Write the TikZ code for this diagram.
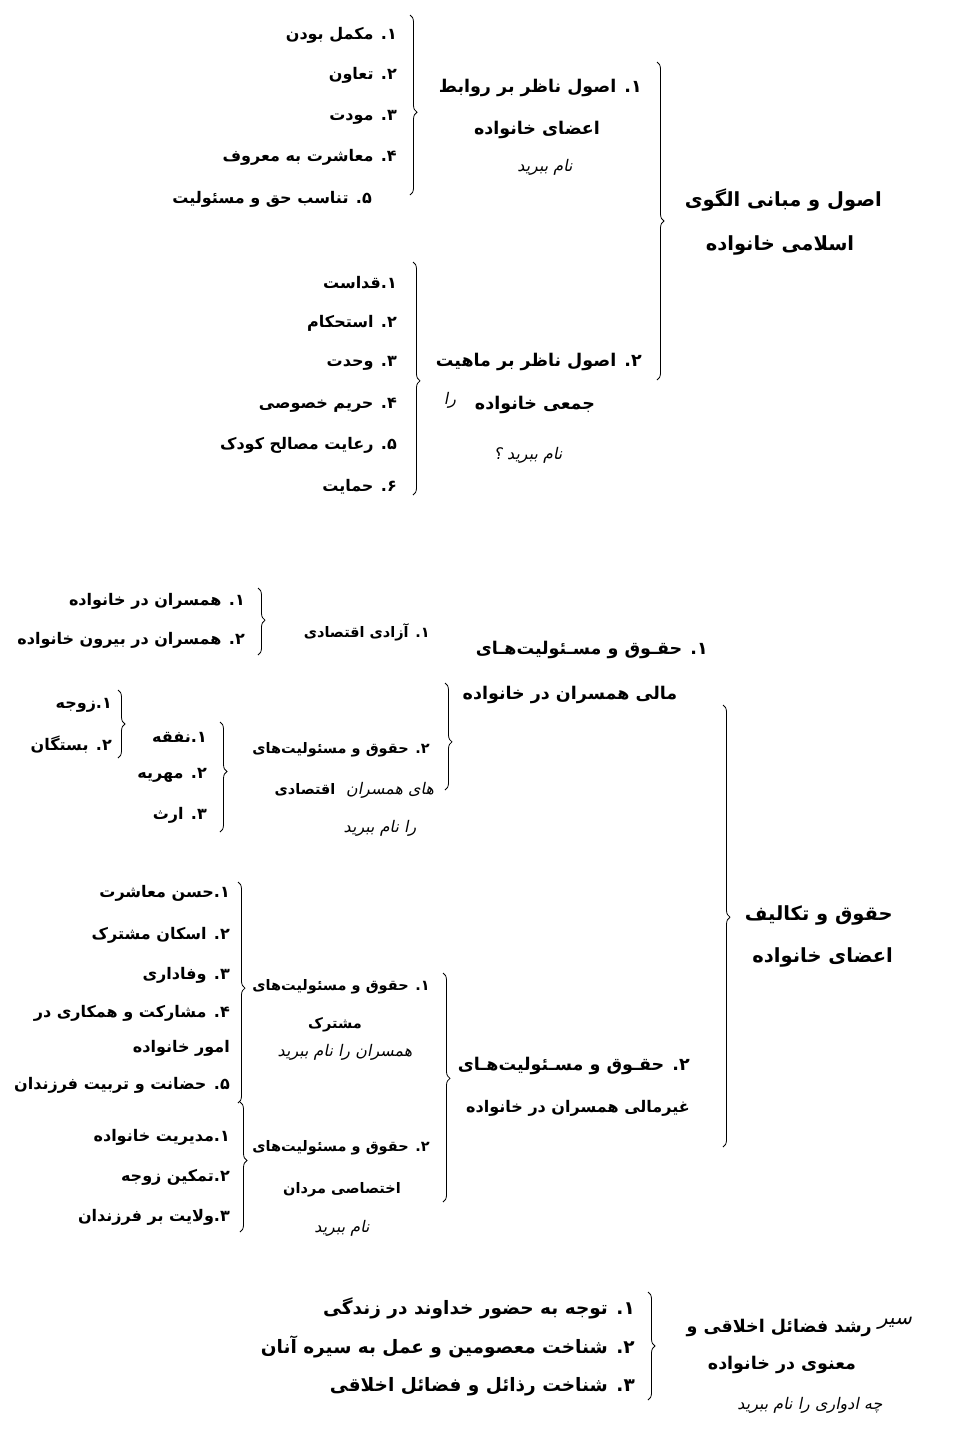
\documentclass[tikz,border=0pt]{standalone}
\usepackage{fontspec}
\usetikzlibrary{decorations.pathreplacing}
\TeXXeTstate=1
\newfontfamily\fa[Script=Arabic]{DejaVu Sans}
\newfontfamily\hand[Script=Arabic,FakeSlant=0.2]{DejaVu Sans}
\newcommand{\rtl}[1]{\beginR#1\endR}
\tikzset{itm/.style={inner sep=0pt,font=\fa\bfseries\fontsize{16}{18}\selectfont},
         sml/.style={inner sep=0pt,font=\fa\bfseries\fontsize{14.5}{17}\selectfont},
         hd/.style={inner sep=0pt,font=\fa\bfseries\fontsize{17.5}{20}\selectfont},
         rt/.style={inner sep=0pt,font=\fa\bfseries\fontsize{19.5}{22}\selectfont},
         wide/.style={inner sep=0pt,font=\fa\bfseries\fontsize{18.5}{21}\selectfont},
         hw/.style={inner sep=0pt,font=\hand\fontsize{16}{18}\selectfont},
         brc/.style={decorate,decoration={brace,amplitude=7pt,aspect=#1},line width=0.8pt},
         brc/.default=0.5}

\begin{document}
\begin{tikzpicture}[x=1pt,y=-1pt]
\useasboundingbox (0,0) rectangle (954,1452);

%%% part one
\node[itm,anchor=east] (a1) at (397,35)  {\rtl{۱. مکمل بودن}};
\node[itm,anchor=east] (a2) at (397,75)  {\rtl{۲. تعاون}};
\node[itm,anchor=east] (a3) at (397,117) {\rtl{۳. مودت}};
\node[itm,anchor=east] (a4) at (397,157) {\rtl{۴. معاشرت به معروف}};
\node[itm,anchor=east] (a5) at (372,199) {\rtl{۵. تناسب حق و مسئولیت}};
\coordinate (at) at (410,15); \coordinate (ab) at (410,195);
\draw[brc=0.54] (at)--(ab);                                   %a1..a5
\node[hd,anchor=east] (a0)  at (642,88)  {\rtl{۱. اصول ناظر بر روابط}};
\node[hd]             (a0b) at (537,130) {\rtl{اعضای خانواده}};
\node[hw]             (a0c) at (545,167) {\rtl{نام ببرید}};

\node[itm,anchor=east] (b1) at (397,283) {\rtl{۱.قداست}};
\node[itm,anchor=east] (b2) at (397,323) {\rtl{۲. استحکام}};
\node[itm,anchor=east] (b3) at (397,363) {\rtl{۳. وحدت}};
\node[itm,anchor=east] (b4) at (397,405) {\rtl{۴. حریم خصوصی}};
\node[itm,anchor=east] (b5) at (397,445) {\rtl{۵. رعایت مصالح کودک}};
\node[itm,anchor=east] (b6) at (397,487) {\rtl{۶. حمایت}};
\coordinate (bt) at (413,262); \coordinate (bb) at (413,495);
\draw[brc=0.51] (bt)--(bb);                                   %b1..b6
\node[hd,anchor=east] (b0)  at (642,362) {\rtl{۲. اصول ناظر بر ماهیت}};
\node[hd]             (b0b) at (535,405) {\rtl{جمعی خانواده}};
\node[hw]             (b0c) at (450,400) {\rtl{را}};
\node[hw]             (b0d) at (528,455) {\rtl{نام ببرید ؟}};

\coordinate (rt) at (657,62); \coordinate (rb) at (657,380);
\draw[brc=0.5] (rt)--(rb);                                    %a0,b0
\node[rt,anchor=east] (r1)  at (882,200) {\rtl{اصول و مبانی الگوی}};
\node[rt]             (r1b) at (780,245) {\rtl{اسلامی خانواده}};

%%% part two
\node[itm,anchor=east] (c1) at (245,601) {\rtl{۱. همسران در خانواده}};
\node[itm,anchor=east] (c2) at (245,640) {\rtl{۲. همسران در بیرون خانواده}};
\coordinate (ct) at (258,588); \coordinate (cb) at (258,655);
\draw[brc=0.48] (ct)--(cb);                                   %c1,c2
\node[sml,anchor=east] (c0) at (430,632) {\rtl{۱. آزادی اقتصادی}};

\node[hd,anchor=east] (d0)  at (708,650) {\rtl{۱. حقـوق و مسـئولیت‌هـای}};
\node[hd]             (d0b) at (570,695) {\rtl{مالی همسران در خانواده}};

\node[itm,anchor=east] (e1) at (112,705) {\rtl{۱.زوجه}};
\node[itm,anchor=east] (e2) at (112,745) {\rtl{۲. بستگان}};
\coordinate (et) at (118,690); \coordinate (eb) at (118,758);
\draw[brc=0.5] (et)--(eb);                                    %e1,e2

\node[itm,anchor=east] (f1) at (207,737) {\rtl{۱.نفقه}};
\node[itm,anchor=east] (f2) at (207,775) {\rtl{۲. مهریه}};
\node[itm,anchor=east] (f3) at (207,815) {\rtl{۳. ارث}};
\coordinate (ft) at (220,722); \coordinate (fb) at (220,832);
\draw[brc=0.45] (ft)--(fb);                                   %f1..f3

\node[sml,anchor=east] (g0)  at (430,750) {\rtl{۲. حقوق و مسئولیت‌های}};
\node[sml]             (g0b) at (305,790) {\rtl{اقتصادی}};
\node[hw]              (g0c) at (390,790) {\rtl{های همسران}};
\node[hw]              (g0d) at (380,828) {\rtl{را نام ببرید}};
\coordinate (gt) at (445,683); \coordinate (gb) at (445,790);
\draw[brc=0.55] (gt)--(gb);                                   %g0

\node[itm,anchor=east] (h1)  at (230,893)  {\rtl{۱.حسن معاشرت}};
\node[itm,anchor=east] (h2)  at (230,935)  {\rtl{۲. اسکان مشترک}};
\node[itm,anchor=east] (h3)  at (230,975)  {\rtl{۳. وفاداری}};
\node[itm,anchor=east] (h4)  at (230,1013) {\rtl{۴. مشارکت و همکاری در}};
\node[itm,anchor=east] (h4b) at (230,1048) {\rtl{امور خانواده}};
\node[itm,anchor=east] (h5)  at (230,1085) {\rtl{۵. حضانت و تربیت فرزندان}};
\coordinate (ht) at (238,882); \coordinate (hb) at (238,1103);
\draw[brc=0.48] (ht)--(hb);                                   %h1..h5
\node[sml,anchor=east] (h0)  at (430,987)  {\rtl{۱. حقوق و مسئولیت‌های}};
\node[sml]             (h0b) at (335,1025) {\rtl{مشترک}};
\node[hw]              (h0c) at (345,1052) {\rtl{همسران را نام ببرید}};

\node[itm,anchor=east] (m1) at (230,1137) {\rtl{۱.مدیریت خانواده}};
\node[itm,anchor=east] (m2) at (230,1177) {\rtl{۲.تمکین زوجه}};
\node[itm,anchor=east] (m3) at (230,1217) {\rtl{۳.ولایت بر فرزندان}};
\coordinate (mt) at (240,1102); \coordinate (mb) at (240,1232);
\draw[brc=0.45] (mt)--(mb);                                   %m1..m3
\node[sml,anchor=east] (m0)  at (430,1148) {\rtl{۲. حقوق و مسئولیت‌های}};
\node[sml]             (m0b) at (342,1190) {\rtl{اختصاصی مردان}};
\node[hw]              (m0c) at (342,1228) {\rtl{نام ببرید}};

\coordinate (kt) at (443,973); \coordinate (kb) at (443,1202);
\draw[brc=0.46] (kt)--(kb);                                   %h0,m0
\node[hd,anchor=east] (k0)  at (690,1066) {\rtl{۲. حقـوق و مسـئولیت‌هـای}};
\node[itm,anchor=east] (k0b) at (690,1108) {\rtl{غیرمالی همسران در خانواده}};

\coordinate (st) at (723,705); \coordinate (sb) at (723,1147);
\draw[brc=0.48] (st)--(sb);                                   %d0,k0
\node[rt,anchor=east] (r2)  at (893,915) {\rtl{حقوق و تکالیف}};
\node[rt,anchor=east] (r2b) at (893,957) {\rtl{اعضای خانواده}};

%%% part three
\node[wide,anchor=east] (n1) at (635,1308) {\rtl{۱. توجه به حضور خداوند در زندگی}};
\node[wide,anchor=east] (n2) at (635,1347) {\rtl{۲. شناخت معصومین و عمل به سیره آنان}};
\node[wide,anchor=east] (n3) at (635,1387) {\rtl{۳. شناخت رذائل و فضائل اخلاقی}};
\coordinate (nt) at (648,1292); \coordinate (nb) at (648,1400);
\draw[brc=0.5] (nt)--(nb);                                    %n1..n3
\node[hd,anchor=east] (r3)  at (872,1328) {\rtl{رشد فضائل اخلاقی و}};
\node[hw,anchor=west,font=\hand\fontsize{20}{22}\selectfont] (r3a) at (878,1323) {\rtl{سیر}};
\node[hd]             (r3b) at (782,1365) {\rtl{معنوی در خانواده}};
\node[hw]             (r3c) at (810,1405) {\rtl{چه ادواری را نام ببرید}};
\end{tikzpicture}
\end{document}
